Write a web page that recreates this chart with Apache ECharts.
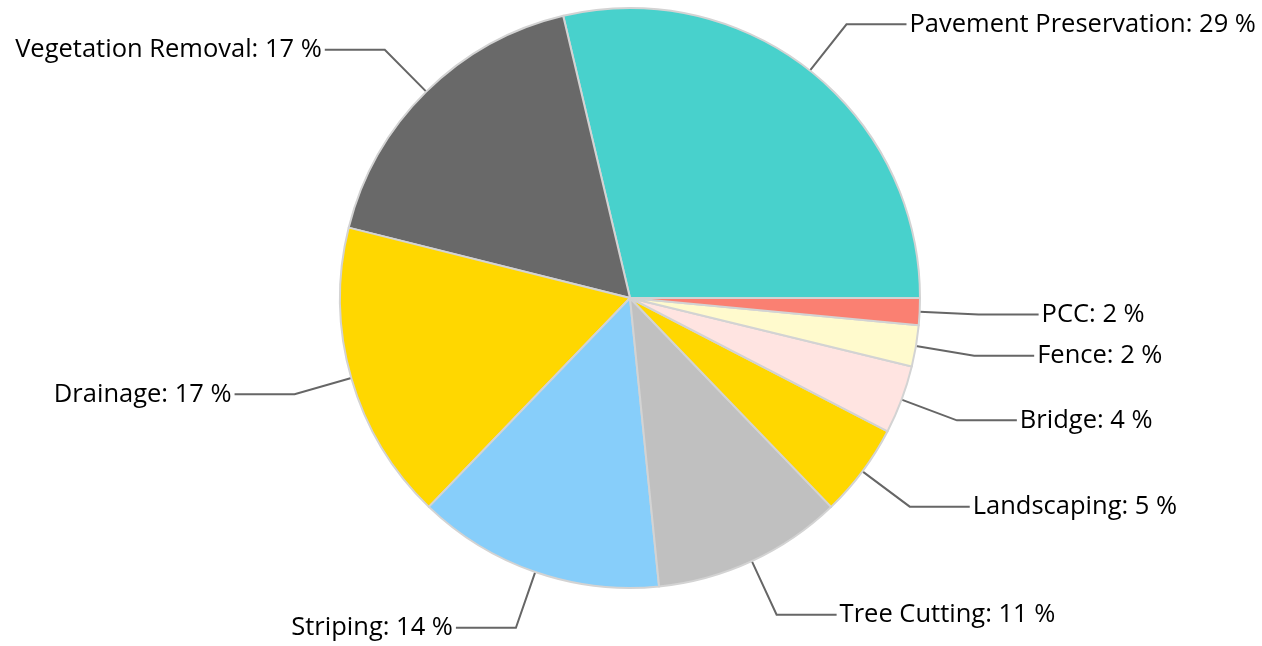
<!DOCTYPE html>
<html>
<head>
<meta charset="utf-8">
<script src="https://cdn.jsdelivr.net/npm/echarts@6/dist/echarts.min.js"></script>
<style>
html,body{margin:0;padding:0;background:#fff;}
#c{width:1262px;height:646px;}
</style>
</head>
<body>
<div id="c"></div>
<script>
const categories = ["Pavement Preservation","Vegetation Removal","Drainage","Striping","Tree Cutting","Landscaping","Bridge","Fence","PCC"];
const values = [28.7, 17.4, 16.7, 13.8, 10.6, 5.2, 3.8, 2.3, 1.5];
const colors = ["#48D1CC","#696969","#FFD700","#87CEFA","#C0C0C0","#FFD700","#FFE4E1","#FFFACD","#FA8072"];

const chart = echarts.init(document.getElementById('c'));
chart.setOption({
  animation: false,
  series: [{
    type: 'pie',
    center: [630, 298],
    radius: 290,
    startAngle: 0,
    clockwise: false,
    avoidLabelOverlap: true,
    data: categories.map((n, i) => ({name: n, value: values[i], itemStyle: {color: colors[i]}})),
    itemStyle: {borderColor: '#D3D3D3', borderWidth: 2},
    label: {
      show: true,
      overflow: 'none',
      fontFamily: 'Open Sans',
      fontSize: 25.5,
      color: '#000',
      distanceToLabelLine: 3,
      formatter: p => p.name + ': ' + Math.round(p.percent) + ' %'
    },
    labelLine: {
      show: true,
      length: 59,
      length2: 60,
      lineStyle: {color: '#666', width: 2}
    },
    emphasis: {disabled: true}
  }]
});
</script>
</body>
</html>
